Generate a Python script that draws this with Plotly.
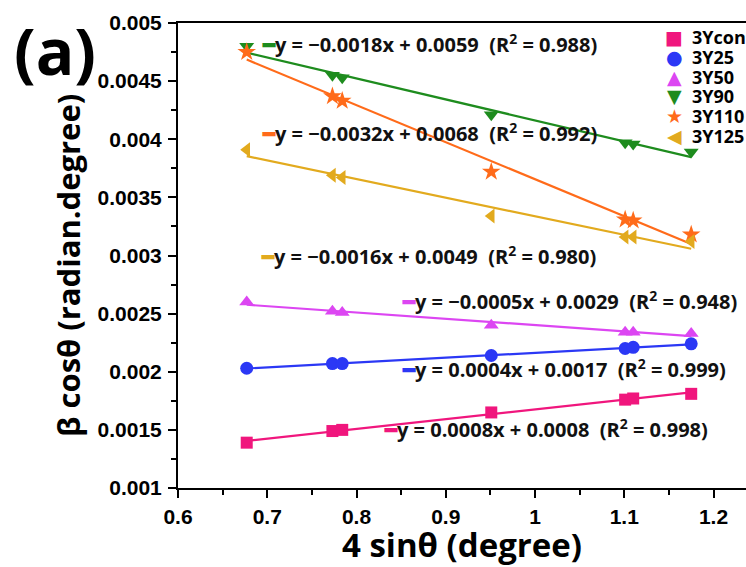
import numpy as np
import plotly.graph_objects as go

# ---- data ----
x_vals = [0.677, 0.773, 0.784, 0.951, 1.101, 1.110, 1.175]
series_names = ["3Ycon", "3Y25", "3Y50", "3Y90", "3Y110", "3Y125"]
y_3Ycon = [0.00139, 0.00149, 0.00150, 0.00165, 0.00176, 0.00177, 0.00181]
y_3Y25 = [0.00203, 0.00207, 0.00207, 0.00214, 0.00220, 0.00221, 0.00224]
y_3Y50 = [0.00260, 0.00252, 0.00251, 0.00240, 0.00234, 0.00234, 0.00233]
y_3Y90 = [0.00480, 0.00455, 0.00453, 0.00421, 0.00397, 0.00396, 0.00389]
y_3Y110 = [0.00475, 0.00437, 0.00433, 0.00372, 0.00331, 0.00330, 0.00318]
y_3Y125 = [0.00391, 0.00369, 0.00367, 0.00334, 0.00316, 0.00316, 0.00312]
equations = [
    "y = 0.0008x + 0.0008  (R<sup>2</sup> = 0.998)",
    "y = 0.0004x + 0.0017  (R<sup>2</sup> = 0.999)",
    "y = \u22120.0005x + 0.0029  (R<sup>2</sup> = 0.948)",
    "y = \u22120.0018x + 0.0059  (R<sup>2</sup> = 0.988)",
    "y = \u22120.0032x + 0.0068  (R<sup>2</sup> = 0.992)",
    "y = \u22120.0016x + 0.0049  (R<sup>2</sup> = 0.980)",
]
eq_pos_x = [0.8284, 0.8486, 0.8486, 0.6918, 0.6918, 0.6907]
eq_pos_y = [0.001508, 0.002024, 0.002609, 0.004828, 0.004054, 0.003004]
x_ticks = [0.6, 0.7, 0.8, 0.9, 1.0, 1.1, 1.2]
x_tick_labels = ["0.6", "0.7", "0.8", "0.9", "1", "1.1", "1.2"]
y_ticks = [0.001, 0.0015, 0.002, 0.0025, 0.003, 0.0035, 0.004, 0.0045, 0.005]
y_tick_labels = ["0.001", "0.0015", "0.002", "0.0025", "0.003", "0.0035", "0.004", "0.0045", "0.005"]

colors = ["#F0167D", "#2B38F5", "#DC46F2", "#1E8C1E", "#FF6B1A", "#E2AA1E"]
symbols = ["square", "circle", "triangle-up", "triangle-down", "star", "triangle-left"]
legend_glyphs = ["\u25A0", "\u25CF", "\u25B2", "\u25BC", "\u2605", "\u25C0"]
msizes = [12, 13, 13, 13, 14, 13]
all_y = [y_3Ycon, y_3Y25, y_3Y50, y_3Y90, y_3Y110, y_3Y125]

# plot-area geometry (pixels) used to place paper-referenced texts
L, T, B = 178, 23, 488
PW, PH = 746 - L, B - T


def px(x):
    return (x - L) / PW


def py(y):
    return (B - y) / PH


fig = go.Figure()
xa = np.array(x_vals)
for name, ys, c in zip(series_names, all_y, colors):
    k, b = np.polyfit(xa, np.array(ys), 1)
    xl = np.array([xa.min(), xa.max()])
    fig.add_trace(go.Scatter(x=xl, y=k * xl + b, mode="lines",
                             line=dict(color=c, width=2.2),
                             showlegend=False, hoverinfo="skip"))
for name, ys, c, s, ms in zip(series_names, all_y, colors, symbols, msizes):
    fig.add_trace(go.Scatter(x=x_vals, y=ys, mode="markers", name=name,
                             showlegend=False,
                             marker=dict(color=c, symbol=s, size=ms,
                                         line=dict(width=0))))

eq_font = dict(family="Open Sans", size=20, color="#111111", weight="bold")
for txt, c, ex, ey in zip(equations, colors, eq_pos_x, eq_pos_y):
    fig.add_annotation(x=ex, y=ey, xref="x", yref="y", xanchor="left",
                       yanchor="middle", showarrow=False,
                       text=f"<span style='color:{c}'>\u2501</span>{txt}",
                       font=eq_font)

# legend (glyph + label rows)
for i, (name, c, g) in enumerate(zip(series_names, colors, legend_glyphs)):
    yy = py(37 + i * 19.8)
    fig.add_annotation(x=px(674), y=yy, xref="paper", yref="paper",
                       xanchor="center", yanchor="middle", showarrow=False,
                       text=g, font=dict(family="DejaVu Sans", size=19, color=c),
                       borderpad=0)
    fig.add_annotation(x=px(691), y=yy, xref="paper", yref="paper",
                       xanchor="left", yanchor="middle", showarrow=False,
                       text=name, borderpad=0,
                       font=dict(family="Open Sans", size=18, color="black", weight="bold"))

fig.add_annotation(x=px(12), y=py(50), xref="paper", yref="paper",
                   xanchor="left", yanchor="middle", showarrow=False, text="(a)",
                   font=dict(family="Open Sans", size=64, color="black", weight="bold"))

fig.add_annotation(x=px(68), y=py(266), xref="paper", yref="paper",
                   xanchor="center", yanchor="middle", showarrow=False,
                   textangle=-90, text="\u03b2 cos\u03b8 (radian.degree)",
                   font=dict(family="Open Sans", size=31, color="black", weight="bold"))

tick_font = dict(family="Liberation Sans", size=21, color="black", weight="bold")
fig.update_layout(
    width=746, height=567,
    margin=dict(l=L, r=0, t=T, b=567 - B),
    paper_bgcolor="white", plot_bgcolor="white",
    showlegend=False,
    xaxis=dict(range=[0.6, 1.2364], tickvals=x_ticks, ticktext=x_tick_labels,
               ticks="outside", ticklen=8, tickwidth=1.5, tickcolor="black",
               minor=dict(dtick=0.05, tick0=0.6, ticks="outside", ticklen=5,
                          tickwidth=1.5, tickcolor="black"),
               showline=True, linecolor="black", linewidth=2, mirror=True,
               showgrid=False, zeroline=False,
               tickfont=tick_font, ticklabelstandoff=1,
               title=dict(text="4 sin\u03b8 (degree)",
                          font=dict(family="Open Sans", size=33, color="black", weight="bold"),
                          standoff=6)),
    yaxis=dict(range=[0.001, 0.005], tickvals=y_ticks, ticktext=y_tick_labels,
               ticks="outside", ticklen=8, tickwidth=1.5, tickcolor="black",
               minor=dict(dtick=0.00025, tick0=0.001, ticks="outside", ticklen=5,
                          tickwidth=1.5, tickcolor="black"),
               showline=True, linecolor="black", linewidth=2,
               showgrid=False, zeroline=False,
               tickfont=tick_font, ticklabelstandoff=2),
)
fig.write_html("out.html")
